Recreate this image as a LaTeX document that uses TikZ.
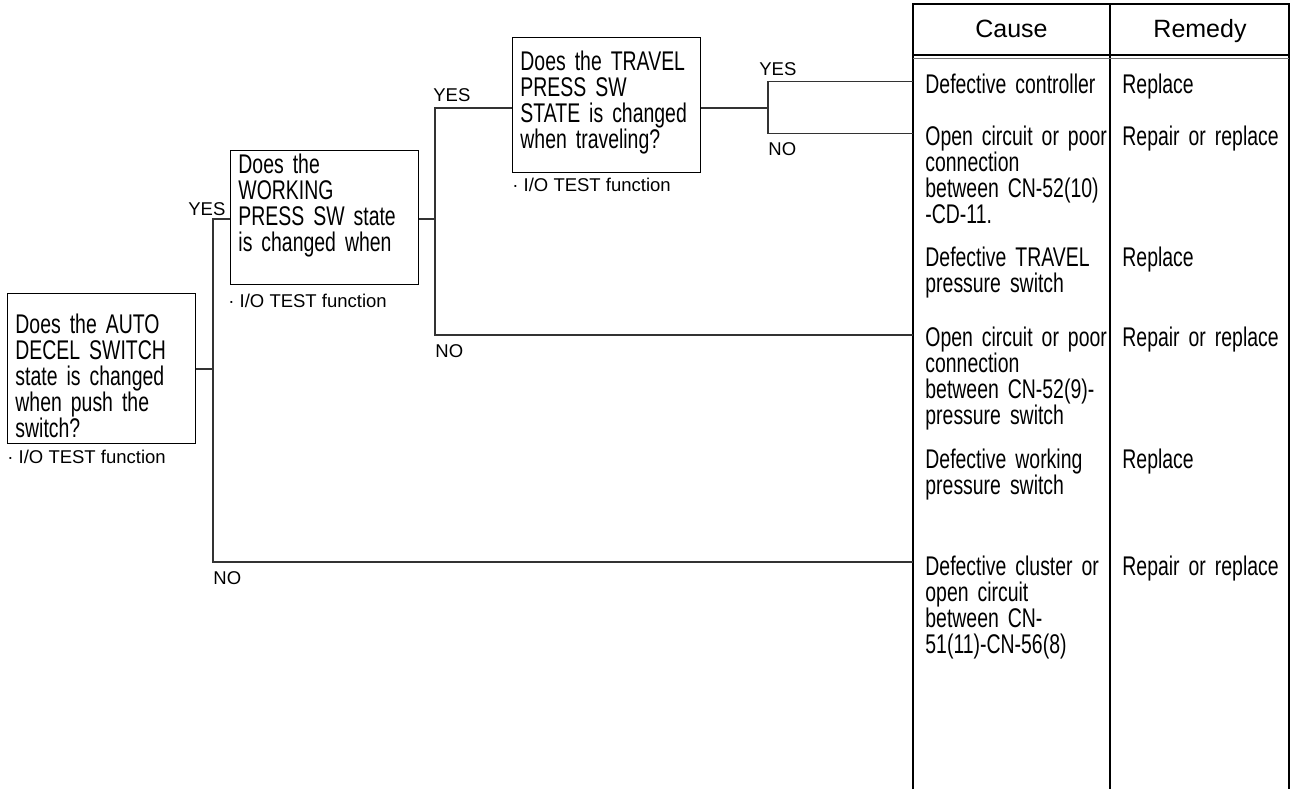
\documentclass[tikz,border=0pt]{standalone}
\usepackage{fontspec}
\setmainfont{Liberation Sans}
\newfontfamily\narrowfamily{Liberation Sans}[FakeStretch=0.72]
\newcommand{\boxfont}{\narrowfamily\fontsize{13.5pt}{13pt}\selectfont\hyphenpenalty=10000}
\newcommand{\tagfont}{\fontsize{9.25pt}{11pt}\selectfont}
\newcommand{\headfont}{\fontsize{12.5pt}{14pt}\selectfont}
\tikzset{
	question/.style={draw, line width=0.65pt, anchor=north west, align=left, text width=86pt, inner xsep=3.9pt, inner ysep=0pt, font=\boxfont},
	cause/.style={anchor=base west, align=left, text width=94pt, inner sep=0pt, font=\boxfont},
	fix/.style={anchor=base west, align=left, text width=85pt, inner sep=0pt, font=\boxfont},
	tag/.style={anchor=base west, inner sep=0pt, font=\tagfont},
	link/.style={line width=0.6pt, black!80},
	tabline/.style={line width=0.6pt}
}
\begin{document}
\begin{tikzpicture}[x=0.5pt, y=-0.5pt]
		\useasboundingbox (0,0) rectangle (1296,789);
		\node[question, text height=20pt, text depth=55pt] (auto) at (7,293) {Does the AUTO\\DECEL SWITCH\\state is changed\\when push the\\switch?};
		\node[question, text height=11.65pt, text depth=55.35pt] (working) at (230,150) {Does the\\WORKING\\PRESS SW state\\is changed when};
		\node[question, text height=16.5pt, text depth=50.85pt] (travel) at (512,37) {Does the TRAVEL\\PRESS SW\\STATE is changed\\when traveling?};
		\node[tag] (autotest) at (7,463) {· I/O TEST function};
		\node[tag] (worktest) at (228,307) {· I/O TEST function};
		\node[tag] (traveltest) at (512,191) {· I/O TEST function};
		\coordinate (tabL) at (913,4);
		\draw[tabline, line width=0.85pt] (913,789) -- (913,4) -- (1289,4) -- (1289,789);
		\draw[tabline] (1110,4) -- (1110,789);
		\draw[tabline] (913,55) -- (1289,55);
		\draw[tabline, black!55] (913,58.5) -- (1289,58.5);
		\node[anchor=base, inner sep=0pt, font=\headfont] (headcause) at (1011.5,37) {Cause};
		\node[anchor=base, inner sep=0pt, font=\headfont] (headfix) at (1200,37) {Remedy};
		\node[cause] (cause1) at (925,93) {Defective controller};
		\node[fix] (fix1) at (1122,93) {Replace};
		\node[cause] (cause2) at (925,145) {Open circuit or poor\\connection\\between CN-52(10)\\-CD-11.};
		\node[fix] (fix2) at (1122,145) {Repair or replace};
		\node[cause] (cause3) at (925,266) {Defective TRAVEL\\pressure switch};
		\node[fix] (fix3) at (1122,266) {Replace};
		\node[cause] (cause4) at (925,346) {Open circuit or poor\\connection\\between CN-52(9)-\\pressure switch};
		\node[fix] (fix4) at (1122,346) {Repair or replace};
		\node[cause] (cause5) at (925,468) {Defective working\\pressure switch};
		\node[fix] (fix5) at (1122,468) {Replace};
		\node[cause] (cause6) at (925,575) {Defective cluster or\\open circuit\\between CN-\\51(11)-CN-56(8)};
		\node[fix] (fix6) at (1122,575) {Repair or replace};
		\coordinate (forkA) at (213,369);
		\coordinate (yesA) at (213,219);
		\coordinate (noA) at (213,562);
		\draw[link] (auto.east |- forkA) -- (forkA);
		\draw[link] (working.west |- yesA) -- (yesA) -- (noA) -- (noA -| tabL);
		\coordinate (forkB) at (435,219);
		\coordinate (yesB) at (435,108);
		\coordinate (noB) at (435,335);
		\draw[link] (working.east |- forkB) -- (forkB);
		\draw[link] (travel.west |- yesB) -- (yesB) -- (noB) -- (noB -| tabL);
		\coordinate (forkC) at (768,108);
		\coordinate (yesC) at (768,81.5);
		\coordinate (noC) at (768,133.5);
		\draw[link] (travel.east |- forkC) -- (forkC);
		\draw[link] (yesC -| tabL) -- (yesC) -- (noC) -- (noC -| tabL);
		\node[tag] (yesAlabel) at (188,215) {YES};
		\node[tag] (noAlabel) at (213,584) {NO};
		\node[tag] (yesBlabel) at (433,101.5) {YES};
		\node[tag] (noBlabel) at (435,357) {NO};
		\node[tag] (yesClabel) at (759,75) {YES};
		\node[tag] (noClabel) at (768,155) {NO};
\end{tikzpicture}
\end{document}
